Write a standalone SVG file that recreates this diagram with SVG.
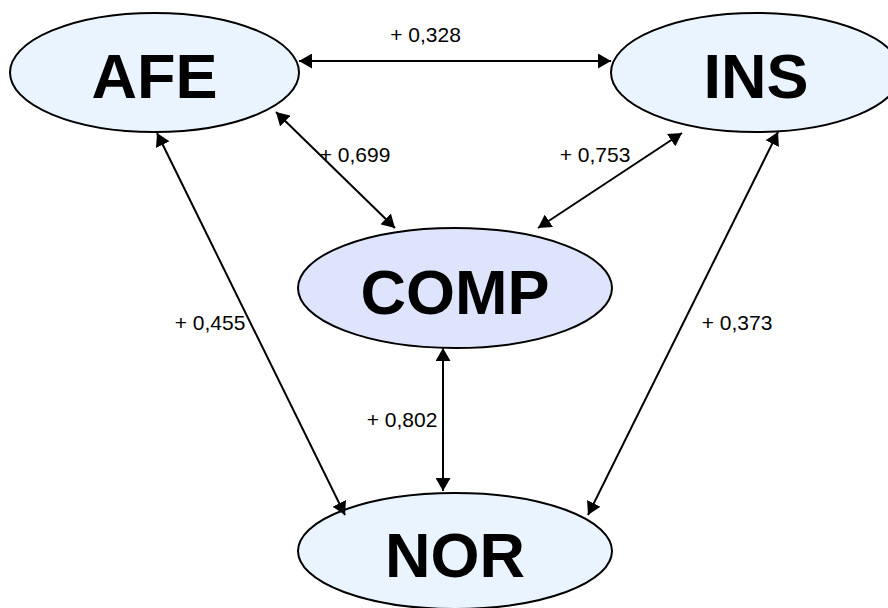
<svg xmlns="http://www.w3.org/2000/svg" width="888" height="608" viewBox="0 0 888 608">
<style>
.node ellipse{stroke:#000;stroke-width:2}
.light{fill:#EAF4FF}
.comp{fill:#DEE4FB}
.big{font-family:"Liberation Sans",Arial,sans-serif;font-weight:bold;font-size:63px;text-anchor:middle;fill:#000}
.lbl{font-family:"Liberation Sans",Arial,sans-serif;font-size:21px;text-anchor:middle;fill:#000}
.edge{stroke:#000;stroke-width:2;fill:none;marker-start:url(#ah);marker-end:url(#ah)}
</style>
<defs>
<marker id="ah" markerUnits="userSpaceOnUse" markerWidth="14" markerHeight="15" refX="13" refY="7.5" orient="auto-start-reverse" viewBox="0 0 14 15">
<path d="M0,0 L13,7.5 L0,15 z" fill="#000"/>
</marker>
</defs>
<rect width="888" height="608" fill="#fff"/>
<g id="AFE" class="node">
<ellipse class="light" cx="154.5" cy="72.5" rx="144.5" ry="59.5"/>
<text class="big" x="154.5" y="98">AFE</text>
</g>
<g id="INS" class="node">
<ellipse class="light" cx="756" cy="72.5" rx="145" ry="59.5"/>
<text class="big" x="756" y="98">INS</text>
</g>
<g id="COMP" class="node">
<ellipse class="comp" cx="455" cy="288" rx="157" ry="60"/>
<text class="big" x="455" y="314">COMP</text>
</g>
<g id="NOR" class="node">
<ellipse class="light" cx="455" cy="551" rx="157" ry="58"/>
<text class="big" x="455" y="577">NOR</text>
</g>
<g id="connectors">
<line class="edge" x1="299" y1="61" x2="611" y2="61"/>
<line class="edge" x1="276" y1="112" x2="395" y2="228"/>
<line class="edge" x1="682" y1="133" x2="538" y2="228"/>
<line class="edge" x1="157" y1="133" x2="345" y2="515"/>
<line class="edge" x1="778" y1="132" x2="588" y2="515"/>
<line class="edge" x1="443" y1="348" x2="443" y2="491"/>
<text class="lbl" x="425.5" y="42">+ 0,328</text>
<text class="lbl" x="355" y="162">+ 0,699</text>
<text class="lbl" x="595" y="162">+ 0,753</text>
<text class="lbl" x="210" y="330">+ 0,455</text>
<text class="lbl" x="737" y="330">+ 0,373</text>
<text class="lbl" x="402" y="427">+ 0,802</text>
</g>
</svg>
